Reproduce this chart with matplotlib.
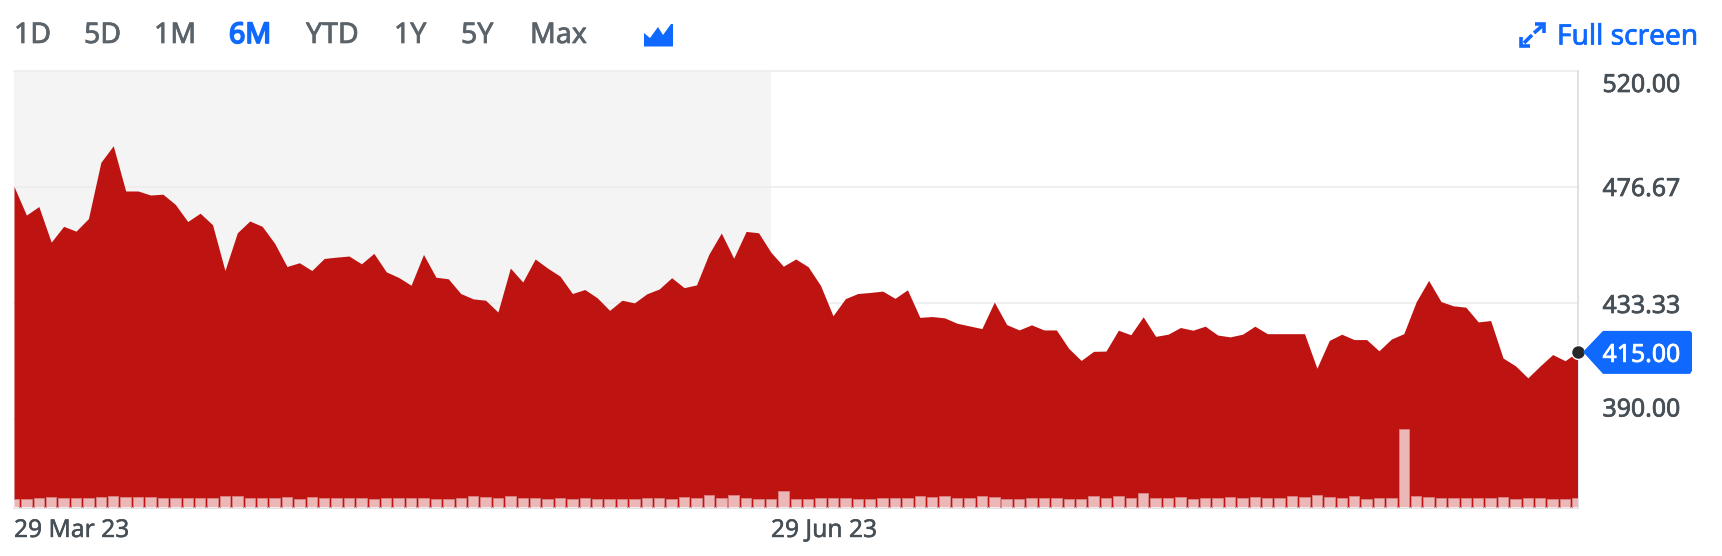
import matplotlib
matplotlib.use("Agg")
import matplotlib.pyplot as plt
import matplotlib.patheffects as pe
from matplotlib.patches import Polygon
from matplotlib.lines import Line2D
from matplotlib.transforms import Affine2D

plt.rcParams['font.family'] = ['Noto Sans', 'DejaVu Sans']

prices = [476.8, 466.1, 469.3, 456.0, 461.9, 460.1, 464.8, 485.8, 492.0, 475.1,
          475.1, 473.6, 473.9, 470.1, 463.7, 466.8, 462.5, 445.4, 459.5, 463.9,
          461.9, 455.6, 446.9, 448.3, 445.4, 449.9, 450.4, 450.8, 447.9, 451.8,
          444.9, 442.8, 439.9, 451.4, 442.9, 442.3, 436.8, 434.8, 434.3, 429.9,
          446.3, 441.1, 449.7, 446.3, 443.3, 436.8, 438.3, 435.2, 430.5, 434.3,
          433.3, 436.7, 438.5, 442.7, 439.0, 440.0, 451.5, 459.4, 450.0, 460.0,
          459.5, 452.2, 447.0, 449.7, 446.8, 439.8, 428.5, 434.9, 436.8, 437.2,
          437.7, 435.0, 438.2, 427.9, 428.2, 427.7, 425.7, 424.7, 423.7, 433.6,
          425.2, 423.2, 425.1, 423.2, 423.2, 416.3, 411.8, 415.2, 415.3, 423.1,
          421.4, 428.1, 420.8, 421.6, 424.1, 423.1, 424.6, 421.3, 420.6, 421.6,
          424.6, 421.8, 421.8, 421.8, 421.8, 408.9, 419.3, 421.6, 419.6, 419.6,
          415.4, 419.8, 421.8, 433.7, 441.7, 433.8, 432.2, 431.7, 426.2, 426.7,
          412.7, 409.8, 405.3, 409.8, 414.0, 411.7, 415.0]

volumes = [9.0, 9.0, 9.7, 11.0, 9.3, 9.3, 9.7, 10.3, 11.3, 11.0,
           11.0, 11.0, 9.7, 9.7, 9.7, 9.3, 9.7, 11.3, 12.0, 10.0,
           10.0, 10.0, 11.0, 9.0, 11.0, 9.3, 9.3, 9.3, 10.0, 9.0,
           9.3, 10.0, 10.0, 9.3, 9.0, 9.0, 9.7, 11.3, 11.0, 9.3,
           11.3, 10.0, 9.3, 9.0, 9.3, 9.0, 9.7, 9.0, 9.0, 9.0,
           9.0, 10.0, 9.3, 9.0, 11.0, 10.0, 13.0, 9.3, 12.7, 10.0,
           9.0, 8.7, 17.0, 9.0, 9.0, 9.3, 9.3, 9.3, 9.0, 9.0,
           9.3, 10.0, 9.3, 12.0, 11.0, 11.7, 10.0, 9.3, 11.3, 11.0,
           8.7, 8.7, 9.3, 9.3, 10.0, 9.0, 9.0, 11.7, 9.7, 11.3,
           9.7, 15.0, 9.3, 10.0, 10.3, 9.0, 10.0, 9.7, 10.3, 9.7,
           10.3, 10.0, 9.3, 11.3, 11.0, 12.7, 10.3, 9.7, 12.0, 9.0,
           9.7, 9.7, 79.0, 11.3, 10.7, 9.3, 10.0, 10.0, 10.0, 9.7,
           10.3, 9.0, 10.0, 10.0, 9.0, 9.0, 9.7]

price_ticks = [520.00, 476.67, 433.33, 390.00]
price_label_rows = [82.5, 186.5, 303.5, 407]
date_ticks = [0, 61]
date_labels = ['29 Mar 23', '29 Jun 23']
ranges = ['1D', '5D', '1M', '6M', 'YTD', '1Y', '5Y', 'Max']
range_lefts = [14, 84, 154, 229, 306, 394, 461, 530]
last_price = 415.00

W, H = 1722, 556
RED = '#bd1412'
BLUE = '#0f69ff'
GREY = '#464e56'
TAB = '#5b636a'


def heavy(width, color):
    return [pe.withStroke(linewidth=width, foreground=color)]


fig = plt.figure(figsize=(W / 100, H / 100), dpi=100, facecolor='white')
L, R, T, B = 14, 1577.5, 70.8, 507.6
ax = fig.add_axes([L / W, 1 - B / H, (R - L) / W, (B - T) / H])
px = Affine2D().scale(1, -1).translate(0, H)

n = len(prices)
xs = list(range(n))
ymax = 520.0
ymin = ymax - (B - T) / 2.677
ax.set_xlim(0, n - 1)
ax.set_ylim(ymin, ymax)
ax.axvspan(date_ticks[0], date_ticks[1], color='#f4f4f4', lw=0, zorder=0)
for t in price_ticks:
    ax.axhline(t, color='#ebebeb', lw=1.1, zorder=1, clip_on=False)
ax.fill_between(xs, prices, ymin, color=RED, lw=0, zorder=2)

for s in ['top', 'left']:
    ax.spines[s].set_visible(False)
ax.spines['right'].set_color('#dcdce6')
ax.spines['right'].set_linewidth(1.2)
ax.spines['right'].set_zorder(1)
ax.spines['bottom'].set_color('#e2dfe8')
ax.spines['bottom'].set_linewidth(1.2)
ax.set_xticks(date_ticks)
ax.set_xticklabels([])
ax.set_yticks([])
ax.tick_params(length=0)

ax2 = ax.twinx()
ax2.set_ylim(0, B - T)
ax2.set_yticks([])
for s in ax2.spines.values():
    s.set_visible(False)
ax2.bar(xs, volumes, width=0.84, facecolor=(1, 1, 1, 0.7),
        edgecolor='#dc8486', linewidth=0.6, zorder=3)

# latest price marker
ax.plot([n - 1], [last_price], 'o', ms=10, mfc='#26282a', mec='white', mew=1.0,
        zorder=6, clip_on=False)

# price axis labels
for t, row in zip(price_ticks, price_label_rows):
    fig.text(1602.5, row, f'{t:.2f}', transform=px, color=GREY, fontsize=17.9,
             ha='left', va='center_baseline', path_effects=heavy(0.5, GREY))

y0 = T + (ymax - last_price) * 2.677
badge = Polygon([(1583, y0), (1603, y0 - 21), (1690, y0 - 21), (1692, y0 - 19),
                 (1692, y0 + 19), (1690, y0 + 22), (1603, y0 + 22)],
                closed=True, transform=px, fc=BLUE, ec='none')
fig.add_artist(badge)
fig.text(1602.5, y0 + 0.5, f'{last_price:.2f}', transform=px, color='white', fontsize=17.9,
         ha='left', va='center_baseline', path_effects=heavy(0.5, 'white'))

# date labels
for i, lab in zip(date_ticks, date_labels):
    fig.text(L + (R - L) * i / (n - 1), 527.5, lab, transform=px, color=GREY,
             fontsize=17.7, ha='left', va='center_baseline', path_effects=heavy(0.3, GREY))

# range tabs
for lab, left in zip(ranges, range_lefts):
    active = lab == '6M'
    col = BLUE if active else TAB
    fig.text(left, 32, lab, transform=px, color=col, fontsize=20.5, ha='left',
             va='center_baseline', path_effects=heavy(1.3 if active else 0.5, col))

# area-chart icon
fig.add_artist(Polygon([(644, 46.5), (644, 33), (650, 38), (658, 27), (663, 35),
                        (671, 24), (673, 24), (673, 46.5)],
                       closed=True, transform=px, fc=BLUE, ec='none'))

# full screen control
for xy in ([(1535, 24), (1544, 24), (1544, 33)], [(1521, 37), (1521, 46), (1530, 46)],
           [(1524, 43), (1532, 35)], [(1534, 33), (1542, 26)]):
    fig.add_artist(Line2D([p[0] for p in xy], [p[1] for p in xy], transform=px,
                          color=BLUE, lw=2.6, solid_joinstyle='miter', solid_capstyle='butt'))
fig.text(1557, 34, 'Full screen', transform=px, color=BLUE, fontsize=20.2,
         ha='left', va='center_baseline', path_effects=heavy(0.5, BLUE))

fig.savefig('out.png', dpi=100, facecolor='white')
